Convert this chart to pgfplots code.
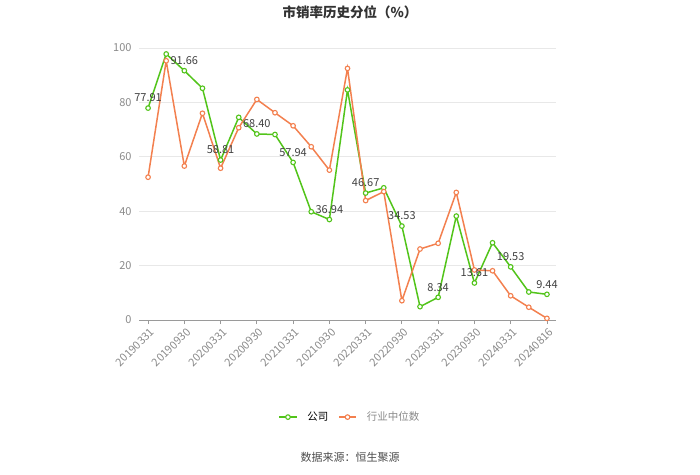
\documentclass[border=0pt]{standalone}
\usepackage{fontspec}
\setmainfont{Noto Sans CJK SC}
\usepackage{pgfplots}
\pgfplotsset{compat=1.18}
\definecolor{cgreen}{HTML}{52C41A}
\definecolor{corange}{HTML}{F3804F}
\definecolor{tickgray}{HTML}{8A8A8A}
\definecolor{gridgray}{HTML}{E8E8E8}
\definecolor{axisgray}{HTML}{9A9A9A}
\begin{document}
\begin{tikzpicture}
\useasboundingbox (0,0) rectangle (700pt,474pt);
\begin{axis}[
  at={(139pt,154pt)}, anchor=south west,
  width=417pt, height=272pt, scale only axis,
  xmin=-0.5, xmax=22.5, ymin=0, ymax=100,
  xtick={0,2,...,22},
  xticklabels={20190331,20190930,20200331,20200930,20210331,20210930,20220331,20220930,20230331,20230930,20240331,20240816},
  x tick label style={rotate=45, anchor=north east, font=\fontsize{11}{12}\selectfont, text=tickgray, inner sep=1pt, yshift=-2pt},
  ytick={0,20,...,100},
  y tick label style={font=\fontsize{11}{12}\selectfont, text=tickgray},
  /pgf/number format/assume math mode=true,
  ymajorgrids, grid style={gridgray, line width=0.8pt},
  axis y line=left, y axis line style={draw=none},
  axis x line*=bottom, x axis line style={axisgray, line width=0.8pt, -},
  major tick length=4pt,
  xtick style={axisgray, line width=0.8pt},
  ytick style={draw=none},
  tick align=outside,
  every axis plot/.append style={line width=1.5pt, mark size=2.3pt},
  legend columns=2,
  legend style={at={(0.506,-0.357)}, anchor=center, draw=none, font=\fontsize{10.5}{12}\selectfont, column sep=8pt},
  legend cell align=left,
]
\addplot[color=cgreen, mark=*, mark options={fill=white, line width=1.1pt}] coordinates {
(0,77.91)(1,97.8)(2,91.66)(3,85.2)(4,58.81)(5,74.5)(6,68.40)(7,68.2)(8,57.94)(9,39.8)(10,36.94)(11,84.6)(12,46.67)(13,48.6)(14,34.53)(15,4.9)(16,8.34)(17,38.2)(18,13.61)(19,28.4)(20,19.53)(21,10.3)(22,9.44)};
\addlegendentry{公司}
\addplot[color=corange, mark=*, mark options={fill=white, line width=1.1pt}] coordinates {
(0,52.5)(1,95.3)(2,56.6)(3,76.0)(4,55.8)(5,70.7)(6,81.1)(7,76.2)(8,71.4)(9,63.7)(10,55.1)(11,92.5)(12,43.9)(13,47.2)(14,7.1)(15,26.1)(16,28.2)(17,46.9)(18,18.4)(19,18.1)(20,8.9)(21,4.7)(22,0.6)};
\addlegendentry{\textcolor{tickgray}{行业中位数}}
\addplot[draw=none, mark=none, forget plot,
  nodes near coords,
  every node near coord/.append style={font=\fontsize{11}{12}\selectfont, text=black!75, anchor=south, yshift=2pt, /pgf/number format/.cd, fixed, fixed zerofill, precision=2}
] coordinates {
(0,77.91)(2,91.66)(4,58.81)(6,68.40)(8,57.94)(10,36.94)(12,46.67)(14,34.53)(16,8.34)(18,13.61)(20,19.53)(22,9.44)};
\end{axis}
\node[font=\bfseries\fontsize{13.5}{15}\selectfont, text=black!80] at (350pt,462pt) {市销率历史分位（\%）};
\node[font=\fontsize{11}{12}\selectfont, text=black!70] at (350pt,17pt) {数据来源：恒生聚源};
\end{tikzpicture}
\end{document}
